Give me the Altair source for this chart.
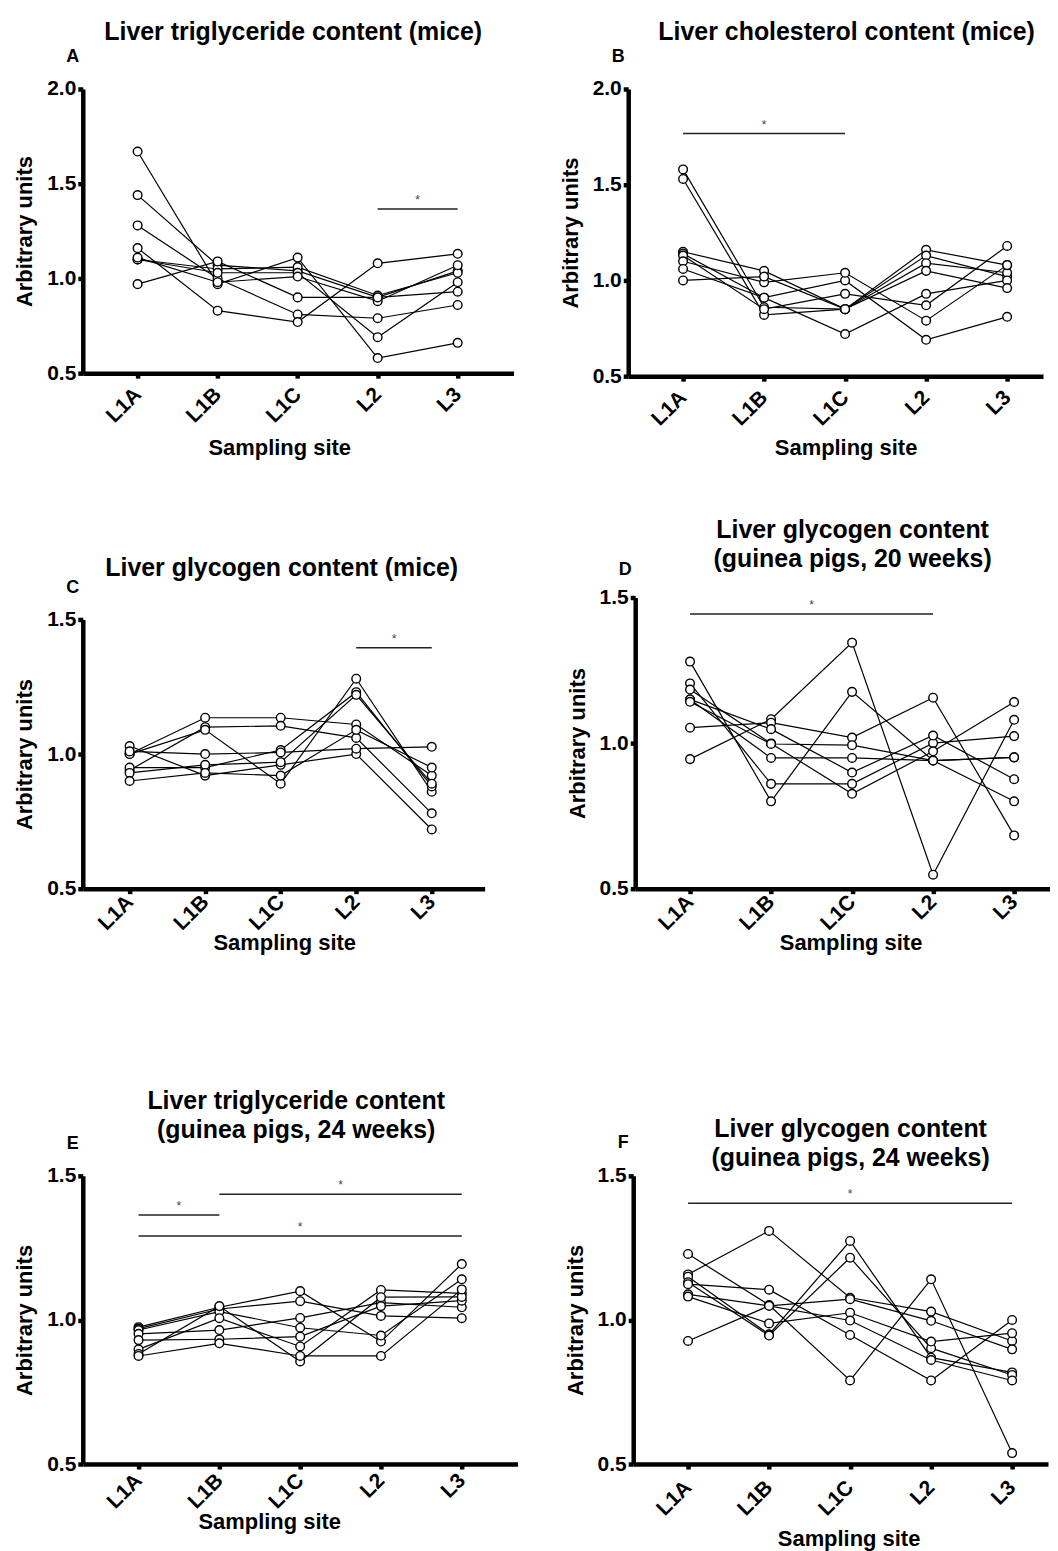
import altair as alt
import pandas as pd

FONT = "Liberation Sans"
SITES = ["L1A", "L1B", "L1C", "L2", "L3"]

# ---- values (one list per animal, sites L1A..L3) ----
A_VALUES = [
    [1.67, 0.97, 1.11, 0.58, 0.66],
    [1.44, 1.07, 1.04, 0.90, 1.04],
    [1.28, 1.00, 0.81, 0.79, 0.86],
    [1.16, 0.83, 0.77, 1.08, 1.13],
    [1.10, 1.05, 1.06, 0.91, 1.03],
    [1.10, 1.03, 1.03, 0.69, 0.98],
    [1.11, 0.98, 1.01, 0.88, 1.07],
    [0.97, 1.09, 0.90, 0.90, 0.93],
]
B_VALUES = [
    [1.58, 0.86, 0.85, 1.16, 1.08],
    [1.53, 0.82, 0.85, 1.13, 1.02],
    [1.15, 1.05, 0.85, 1.09, 1.04],
    [1.14, 0.91, 1.00, 0.69, 0.81],
    [1.13, 0.85, 0.93, 0.87, 1.18],
    [1.10, 0.99, 1.04, 0.79, 1.08],
    [1.06, 0.91, 0.72, 0.93, 1.00],
    [1.00, 1.02, 0.85, 1.05, 0.96],
]
C_VALUES = [
    [1.03, 0.92, 0.96, 1.00, 0.72],
    [1.00, 1.135, 1.135, 1.11, 0.92],
    [0.94, 1.10, 1.105, 1.06, 0.78],
    [1.00, 1.09, 0.89, 1.28, 0.86],
    [0.95, 0.95, 1.015, 1.23, 0.88],
    [0.93, 0.96, 0.97, 1.22, 0.89],
    [0.90, 0.93, 0.92, 1.09, 0.95],
    [1.01, 1.00, 1.006, 1.02, 1.027],
]
D_VALUES = [
    [1.28, 0.80, 1.176, 0.94, 0.80],
    [0.945, 1.082, 1.345, 0.548, 1.08],
    [1.053, 1.07, 1.019, 1.156, 0.683],
    [1.205, 0.86, 0.86, 1.00, 1.024],
    [1.184, 0.999, 0.826, 0.972, 1.141],
    [1.15, 0.949, 0.949, 0.94, 0.951],
    [1.15, 1.048, 0.899, 1.026, 0.876],
    [1.142, 0.997, 0.993, 0.94, 0.951],
]
E_VALUES = [
    [0.975, 1.044, 1.10, 0.925, 1.194],
    [0.97, 1.038, 1.065, 1.014, 1.006],
    [0.965, 1.029, 0.973, 0.946, 1.141],
    [0.952, 0.965, 1.007, 1.06, 1.044],
    [0.93, 0.933, 0.942, 1.048, 1.067],
    [0.898, 1.006, 0.908, 1.104, 1.092],
    [0.882, 1.048, 0.856, 1.079, 1.08],
    [0.875, 0.919, 0.875, 0.875, 1.106],
]
F_VALUES = [
    [1.229, 1.052, 0.79, 1.141, 0.538],
    [1.158, 1.309, 1.077, 1.029, 0.927],
    [1.15, 0.95, 1.274, 0.869, 0.818],
    [1.131, 0.946, 1.216, 0.902, 0.809],
    [1.124, 1.105, 0.948, 0.79, 1.0],
    [1.089, 1.049, 1.072, 0.997, 0.898],
    [1.081, 0.988, 1.025, 0.925, 0.954],
    [0.927, 1.049, 0.998, 0.861, 0.79],
]

# significance bars: (from site index, to site index, height)
A_BARS = [(3, 4, 1.366)]
B_BARS = [(0, 2, 1.767)]
C_BARS = [(3, 4, 1.395)]
D_BARS = [(0, 3, 1.443)]
E_BARS = [(0, 1, 1.364), (1, 4, 1.436), (0, 4, 1.291)]
F_BARS = [(0, 4, 1.405)]

LABEL_EXPR = "['L1A','L1B','L1C','L2','L3'][datum.value]"


def make_panel(values, title, letter, ymax, yticks, bars, width, height,
               dl, dr, title_offset, title_dx, x_title_x, x_title_y, label_pad,
               letter_y, top_pad=0):
    rows = []
    for s, vals in enumerate(values):
        for i, v in enumerate(vals):
            rows.append({"subject": s, "site": i, "name": SITES[i], "value": v})
    df = pd.DataFrame(rows)

    xscale = alt.Scale(domain=[-dl, len(SITES) - 1 + dr], nice=False, zero=False)
    if top_pad:
        yscale = alt.Scale(domain=[0.5, ymax], nice=False, zero=False,
                           range=[height, top_pad])
    else:
        yscale = alt.Scale(domain=[0.5, ymax], nice=False, zero=False)
    xaxis = alt.Axis(values=list(range(len(SITES))), labelExpr=LABEL_EXPR,
                     labelAngle=-45, labelAlign="right", labelBaseline="middle",
                     labelPadding=label_pad, title="Sampling site",
                     titleX=x_title_x, titleY=x_title_y, titleBaseline="middle",
                     grid=False)
    yaxis = alt.Axis(values=yticks, format=".1f", title="Arbitrary units",
                     labelPadding=2, titlePadding=10, grid=False)

    def X(field):
        return alt.X(field, scale=xscale, axis=xaxis)

    def Y(field):
        return alt.Y(field, scale=yscale, axis=yaxis)

    base = alt.Chart(df)
    lines = base.mark_line(color="black", strokeWidth=1.2).encode(
        x=X("site:Q"), y=Y("value:Q"), detail="subject:N", order="site:Q")
    points = base.mark_point(shape="circle", size=75, filled=True, fill="white",
                             stroke="black", strokeWidth=1.4, opacity=1).encode(
        x=X("site:Q"), y=Y("value:Q"))

    bdf = pd.DataFrame(bars, columns=["site", "site2", "value"])
    bdf["mid"] = (bdf["site"] + bdf["site2"]) / 2
    rule = alt.Chart(bdf).mark_rule(color="#222222", strokeWidth=1.5).encode(
        x=X("site:Q"), x2="site2:Q", y=Y("value:Q"))
    star = alt.Chart(bdf).mark_text(text="*", fontSize=12, color="#444444",
                                    font=FONT, dy=-9).encode(
        x=X("mid:Q"), y=Y("value:Q"))

    ldf = pd.DataFrame({"t": [letter]})
    let = alt.Chart(ldf).mark_text(font=FONT, fontSize=18, fontWeight="bold",
                                   color="black", align="center",
                                   baseline="middle").encode(
        text="t:N", x=alt.value(-10), y=alt.value(letter_y))

    return alt.layer(lines, points, rule, star, let).properties(
        width=width, height=height,
        title=alt.TitleParams(text=title, offset=title_offset, dx=title_dx))


pA = make_panel(A_VALUES, "Liver triglyceride content (mice)", "A", 2.0,
                [0.5, 1.0, 1.5, 2.0], A_BARS, 432, 285, 0.685, 0.698,
                3, -5, 197, 75, 13, -32)
pB = make_panel(B_VALUES, "Liver cholesterol content (mice)", "B", 2.0,
                [0.5, 1.0, 1.5, 2.0], B_BARS, 416, 288, 0.677, 0.443,
                3, 11, 218, 72, 13, -32)
pC = make_panel(C_VALUES, "Liver glycogen content (mice)", "C", 1.5,
                [0.5, 1.0, 1.5], C_BARS, 403, 292, 0.62, 0.7,
                -2, -2, 202, 54, 5, -10, top_pad=22)
pD = make_panel(D_VALUES, ["Liver glycogen content", "(guinea pigs, 20 weeks)"], "D", 1.5,
                [0.5, 1.0, 1.5], D_BARS, 416, 292, 0.677, 0.443,
                -11, 10, 216, 54, 5, -28)
pE = make_panel(E_VALUES, ["Liver triglyceride content", "(guinea pigs, 24 weeks)"], "E", 1.5,
                [0.5, 1.0, 1.5], E_BARS, 436, 289, 0.69, 0.69,
                -8, -4, 187, 58, 8, -32)
pF = make_panel(F_VALUES, ["Liver glycogen content", "(guinea pigs, 24 weeks)"], "F", 1.5,
                [0.5, 1.0, 1.5], F_BARS, 416, 289, 0.677, 0.443,
                -37, 10, 216, 75, 15, -33)

row1 = alt.hconcat(pA, pB, spacing=45)
row2 = alt.hconcat(pC, pD, spacing=81)
row3 = alt.hconcat(pE, pF, spacing=46)

chart = alt.vconcat(row1, alt.vconcat(row2, row3, spacing=136), spacing=59).properties(
    padding={"left": 5, "top": 10, "right": 0, "bottom": 0}
).configure_view(stroke=None).configure_axis(
    domainColor="black", domainWidth=4.5, tickColor="black", tickWidth=4.5,
    tickSize=5, labelFont=FONT, labelFontSize=21, labelFontWeight="bold",
    labelColor="black", titleFont=FONT, titleFontSize=22, titleFontWeight="bold",
    titleColor="black", grid=False
).configure_title(
    font=FONT, fontSize=25, fontWeight="bold", color="black", lineHeight=29,
    anchor="middle"
)

chart.save("out.html", embed_options={"renderer": "svg", "actions": False})
